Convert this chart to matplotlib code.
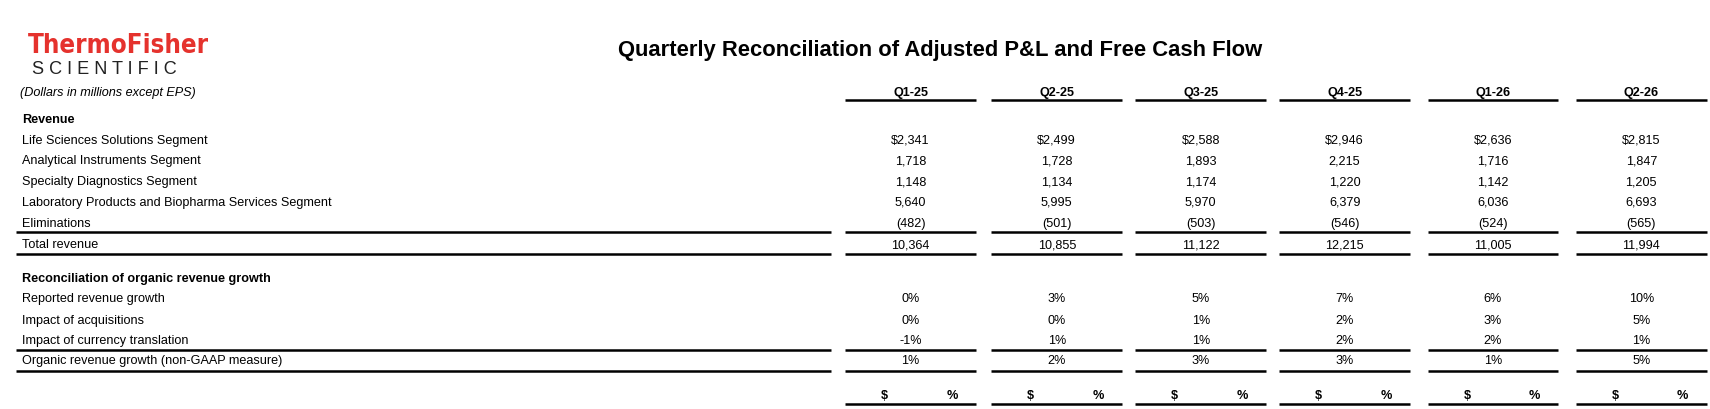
import matplotlib.pyplot as plt

quarters = ['Q1-25', 'Q2-25', 'Q3-25', 'Q4-25', 'Q1-26', 'Q2-26']

rev_labels = ['Life Sciences Solutions Segment', 'Analytical Instruments Segment',
              'Specialty Diagnostics Segment',
              'Laboratory Products and Biopharma Services Segment', 'Eliminations']
life_sci = ['$2,341', '$2,499', '$2,588', '$2,946', '$2,636', '$2,815']
analytical = ['1,718', '1,728', '1,893', '2,215', '1,716', '1,847']
specialty = ['1,148', '1,134', '1,174', '1,220', '1,142', '1,205']
lab_products = ['5,640', '5,995', '5,970', '6,379', '6,036', '6,693']
eliminations = ['(482)', '(501)', '(503)', '(546)', '(524)', '(565)']
total_revenue = ['10,364', '10,855', '11,122', '12,215', '11,005', '11,994']

growth_labels = ['Reported revenue growth', 'Impact of acquisitions',
                 'Impact of currency translation']
reported = ['0%', '3%', '5%', '7%', '6%', '10%']
acquisitions = ['0%', '0%', '1%', '2%', '3%', '5%']
currency = ['-1%', '1%', '1%', '2%', '2%', '1%']
organic = ['1%', '2%', '3%', '3%', '1%', '5%']

# layout measured on a 1568x376 view of the reference, scaled up to 1710x410
W, H = 1710, 410
S = 1710 / 1568
fig = plt.figure(figsize=(W / 100, H / 100), dpi=100)
ax = fig.add_axes([0, 0, 1, 1])
ax.set_xlim(0, W / S)
ax.set_ylim(H / S, 0)
ax.axis('off')
plt.rcParams['font.family'] = ['Liberation Sans', 'DejaVu Sans']

fs = 8.3 * S
cx = [835, 969, 1101, 1233, 1369, 1505]
half = 60
lx0, lx1 = 15, 762


def hline(y, lw=1.8, labels=True):
    if labels:
        ax.plot([lx0, lx1], [y, y], color='black', lw=lw, solid_capstyle='butt')
    for c in cx:
        ax.plot([c - half, c + half], [y, y], color='black', lw=lw, solid_capstyle='butt')


def row(y, label, vals, bold=False):
    ax.text(20, y, label, fontsize=fs, va='center', fontweight='bold' if bold else 'normal')
    if vals is not None:
        for c, v in zip(cx, vals):
            ax.text(c, y, v, fontsize=fs, va='center', ha='center')


# logo and title
ax.text(26, 42, 'ThermoFisher', fontsize=17 * S, fontweight='bold', color='#e5322d',
        va='center', ha='left', family=['DejaVu Sans'], stretch='condensed')
ax.text(29, 64, 'S C I E N T I F I C', fontsize=12 * S, color='#222222', va='center')
ax.text(18, 85, '(Dollars in millions except EPS)', fontsize=fs, style='italic', va='center')
ax.text(862, 46, 'Quarterly Reconciliation of Adjusted P&L and Free Cash Flow',
        fontsize=14.5 * S, fontweight='bold', ha='center', va='center')

for c, q in zip(cx, quarters):
    ax.text(c, 85, q, fontsize=fs, fontweight='bold', ha='center', va='center')
hline(93, labels=False)

row(110, 'Revenue', None, bold=True)
for y, lab, vals in zip([129, 148, 167, 186, 205], rev_labels,
                        [life_sci, analytical, specialty, lab_products, eliminations]):
    row(y, lab, vals)
hline(214)
row(225, 'Total revenue', total_revenue)
hline(234)

row(256, 'Reconciliation of organic revenue growth', None, bold=True)
for y, lab, vals in zip([274, 294, 313], growth_labels, [reported, acquisitions, currency]):
    row(y, lab, vals)
hline(322)
row(331, 'Organic revenue growth (non-GAAP measure)', organic)
hline(341)

for c in cx:
    ax.text(c - 24, 363, '$', fontsize=fs, fontweight='bold', ha='center', va='center')
    ax.text(c + 38, 363, '%', fontsize=fs, fontweight='bold', ha='center', va='center')
hline(371, labels=False)

fig.savefig('out.png', dpi=100)
